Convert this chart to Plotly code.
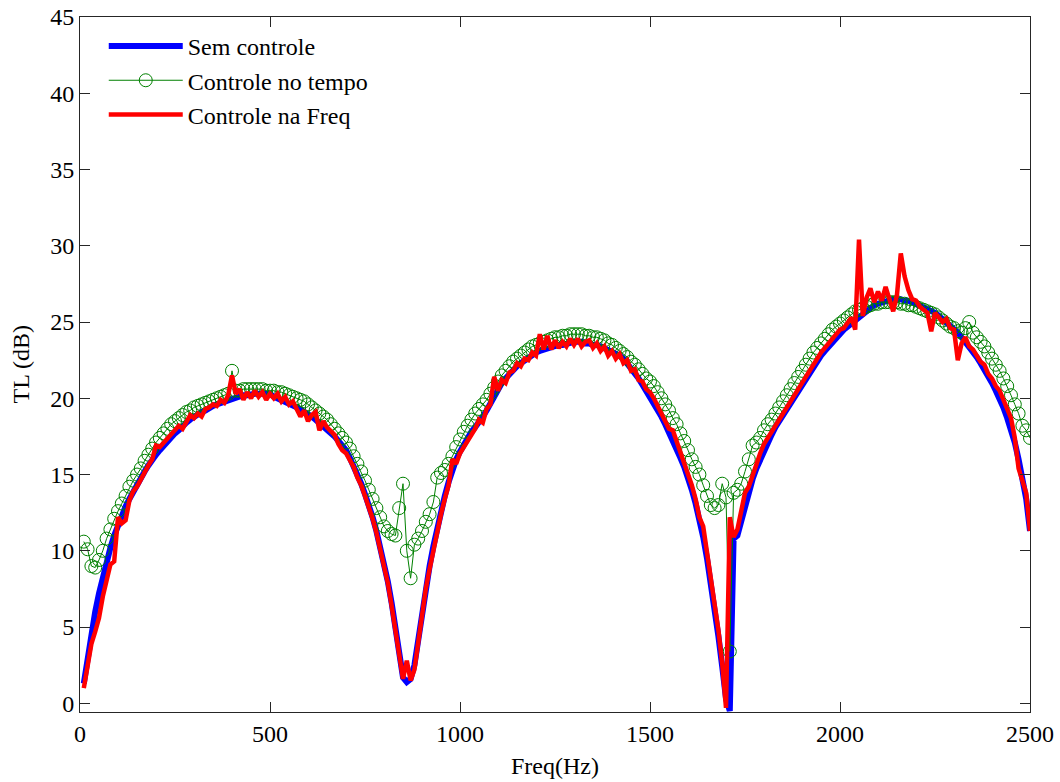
import numpy as np
import plotly.graph_objects as go

freq = list(range(10, 2501, 10))

sem_controle = [
    1.3, 3.0, 4.6, 6.0, 7.2, 8.3, 9.3, 10.2, 11.0, 11.7,
    12.3, 12.9, 13.4, 13.9, 14.3, 14.8, 15.2, 15.6, 16.0, 16.3,
    16.6, 16.9, 17.2, 17.5, 17.7, 17.9, 18.2, 18.4, 18.6, 18.8,
    18.9, 19.1, 19.2, 19.4, 19.5, 19.6, 19.7, 19.8, 19.9, 20.0,
    20.1, 20.1, 20.2, 20.2, 20.3, 20.3, 20.3, 20.3, 20.3, 20.3,
    20.1, 20.0, 19.9, 19.8, 19.7, 19.6, 19.4, 19.3, 19.1, 19.0,
    18.8, 18.6, 18.4, 18.2, 18.0, 17.8, 17.5, 17.2, 16.9, 16.6,
    16.1, 15.6, 15.0, 14.4, 13.7, 13.0, 12.2, 11.3, 10.3, 9.2,
    8.0, 6.6, 5.0, 3.3, 1.7, 1.4, 1.6, 2.5, 4.2, 5.9,
    7.6, 9.0, 10.3, 11.5, 12.6, 13.6, 14.5, 15.3, 16.0, 16.5,
    17.0, 17.4, 17.8, 18.1, 18.4, 18.8, 19.2, 19.7, 20.2, 20.6,
    21.0, 21.3, 21.6, 21.9, 22.1, 22.3, 22.5, 22.7, 22.9, 23.0,
    23.1, 23.2, 23.3, 23.3, 23.4, 23.5, 23.5, 23.6, 23.6, 23.7,
    23.7, 23.7, 23.6, 23.6, 23.5, 23.5, 23.4, 23.3, 23.2, 23.1,
    23.0, 22.8, 22.6, 22.3, 22.0, 21.7, 21.3, 20.9, 20.5, 20.1,
    19.7, 19.3, 18.8, 18.3, 17.8, 17.3, 16.7, 16.1, 15.5, 14.8,
    14.0, 13.1, 12.1, 10.9, 9.5, 8.0, 6.3, 4.4, 2.4, 0.3,
    -0.5, 10.8, 11.0, 12.0, 13.0, 14.0, 14.7, 15.4, 16.0, 16.6,
    17.1, 17.6, 18.1, 18.5, 18.9, 19.3, 19.7, 20.1, 20.5, 20.9,
    21.3, 21.7, 22.1, 22.4, 22.8, 23.1, 23.4, 23.7, 24.0, 24.3,
    24.5, 24.7, 24.9, 25.2, 25.4, 25.6, 25.8, 26.0, 26.1, 26.2,
    26.3, 26.4, 26.4, 26.5, 26.5, 26.5, 26.4, 26.4, 26.3, 26.2,
    26.1, 26.0, 25.9, 25.7, 25.6, 25.4, 25.2, 25.0, 24.8, 24.6,
    24.3, 24.0, 23.7, 23.4, 23.0, 22.7, 22.3, 21.9, 21.4, 21.0,
    20.5, 20.0, 19.4, 18.7, 18.0, 17.1, 16.0, 14.8, 13.4, 11.3,
]

controle_tempo = [
    10.6, 10.1, 9.0, 8.9, 9.4, 10.0, 10.8, 11.4, 12.1, 12.6,
    13.1, 13.6, 14.2, 14.6, 15.0, 15.4, 15.9, 16.3, 16.7, 17.1,
    17.4, 17.7, 18.0, 18.3, 18.5, 18.7, 18.9, 19.1, 19.2, 19.4,
    19.5, 19.6, 19.7, 19.8, 19.9, 20.0, 20.1, 20.2, 20.3, 21.8,
    20.5, 20.5, 20.6, 20.6, 20.6, 20.6, 20.6, 20.6, 20.5, 20.5,
    20.5, 20.4, 20.4, 20.3, 20.2, 20.1, 20.0, 19.9, 19.8, 19.6,
    19.4, 19.2, 19.0, 18.8, 18.6, 18.3, 18.0, 17.7, 17.4, 17.1,
    16.7, 16.2, 15.7, 15.2, 14.6, 14.0, 13.4, 12.8, 12.2, 11.6,
    11.3, 11.1, 11.0, 12.8, 14.4, 10.0, 8.2, 10.4, 10.8, 11.3,
    11.9, 12.4, 13.2, 14.8, 15.1, 15.3, 15.7, 16.2, 16.8, 17.3,
    17.8, 18.2, 18.6, 19.0, 19.3, 19.6, 19.9, 20.3, 20.7, 21.1,
    21.5, 21.8, 22.1, 22.4, 22.6, 22.8, 23.0, 23.2, 23.4, 23.5,
    23.6, 23.7, 23.8, 23.9, 24.0, 24.0, 24.1, 24.1, 24.2, 24.2,
    24.2, 24.2, 24.1, 24.1, 24.0, 24.0, 23.9, 23.8, 23.6, 23.5,
    23.3, 23.1, 22.9, 22.7, 22.4, 22.2, 21.9, 21.6, 21.3, 21.1,
    20.8, 20.4, 20.0, 19.6, 19.2, 18.7, 18.3, 17.7, 17.2, 16.6,
    16.0, 15.5, 15.0, 14.3, 13.6, 13.0, 12.8, 13.0, 14.4, 13.5,
    3.4, 13.8, 14.0, 14.4, 15.2, 16.0, 16.9, 17.1, 17.4, 17.9,
    18.3, 18.6, 19.0, 19.4, 19.8, 20.2, 20.6, 21.0, 21.4, 21.8,
    22.2, 22.6, 23.0, 23.3, 23.6, 23.9, 24.2, 24.5, 24.7, 24.9,
    25.1, 25.3, 25.5, 25.7, 25.8, 25.9, 26.0, 26.1, 26.2, 26.2,
    26.3, 26.3, 26.3, 26.3, 26.3, 26.2, 26.2, 26.1, 26.1, 26.0,
    25.9, 25.8, 25.7, 25.6, 25.5, 25.3, 25.1, 24.9, 24.7, 24.6,
    24.4, 24.3, 24.6, 25.0, 24.3, 24.0, 23.7, 23.4, 23.0, 22.6,
    22.2, 21.8, 21.3, 20.8, 20.2, 19.6, 19.0, 18.2, 17.9, 17.4,
]

controle_freq = [
    1.0, 2.6, 3.9, 4.7, 5.6, 7.0, 8.0, 9.1, 9.3, 12.2,
    11.8, 12.0, 13.3, 13.9, 14.2, 14.7, 15.1, 15.6, 16.0, 16.9,
    16.8, 17.1, 17.4, 17.6, 17.9, 18.2, 18.0, 18.5, 18.9, 18.7,
    19.0, 18.8, 19.3, 19.4, 19.6, 19.5, 19.9, 19.7, 20.2, 21.5,
    20.3, 20.6, 19.9, 20.4, 20.0, 20.5, 20.1, 20.4, 19.9, 20.3,
    20.0, 20.3, 19.8, 20.1, 19.6, 19.8, 19.3, 18.8, 19.2, 18.5,
    18.9, 19.1, 17.9, 18.5, 18.1, 17.8, 17.6, 17.0, 16.6, 16.4,
    15.9, 15.5, 14.8, 14.3, 13.6, 12.9, 12.1, 11.2, 10.2, 9.1,
    7.9, 6.4, 4.8, 3.0, 1.6, 2.8, 1.5, 2.2, 4.0, 5.7,
    7.5, 8.8, 10.1, 11.3, 12.4, 13.4, 14.3, 16.0, 15.7, 16.4,
    16.8, 17.3, 17.6, 18.0, 18.6, 18.4, 19.3, 19.6, 21.4, 20.5,
    21.2, 21.0, 21.7, 21.8, 22.3, 22.1, 22.6, 22.5, 23.0, 22.8,
    24.2, 23.2, 24.1, 23.2, 23.8, 23.3, 23.7, 23.4, 23.9, 23.5,
    23.9, 23.4, 23.7, 23.8, 23.3, 23.6, 23.1, 23.4, 22.8, 23.1,
    22.6, 22.9, 22.3, 22.5, 21.8, 21.9, 21.2, 21.1, 20.6, 20.4,
    20.0, 19.5, 19.0, 18.6, 18.0, 17.9, 17.2, 16.4, 15.8, 15.1,
    14.3, 13.4, 12.2, 11.6, 9.9, 8.6, 6.9, 4.8, 2.6, -0.3,
    12.2, 10.9, 11.4, 12.5, 13.8, 14.2, 15.0, 15.7, 16.4, 17.0,
    17.4, 17.8, 18.3, 18.7, 19.1, 19.5, 19.8, 20.3, 20.6, 21.1,
    21.5, 21.8, 22.3, 22.6, 23.0, 23.3, 23.6, 24.0, 24.2, 24.5,
    24.6, 24.9, 25.3, 24.5, 30.4, 25.4, 26.6, 27.2, 26.3, 27.0,
    26.4, 27.3, 26.5, 25.7, 26.8, 29.5, 28.0, 27.1, 26.5, 26.4,
    26.0, 25.8, 25.6, 24.4, 25.6, 25.3, 25.0, 25.2, 24.6, 24.5,
    22.5, 23.6, 24.0, 23.4, 23.2, 22.8, 22.4, 22.2, 21.6, 21.3,
    20.8, 20.5, 19.8, 19.3, 18.7, 17.4, 15.4, 14.6, 13.8, 11.3,
]

x_ticks = [0, 500, 1000, 1500, 2000, 2500]
y_ticks = [0, 5, 10, 15, 20, 25, 30, 35, 40, 45]

FONT = "Liberation Serif, Times New Roman, serif"

fig = go.Figure()
fig.add_trace(go.Scatter(
    x=freq, y=sem_controle, mode="lines", name="Sem controle",
    line=dict(color="#0000FF", width=6),
))
fig.add_trace(go.Scatter(
    x=freq, y=controle_tempo, mode="lines+markers", name="Controle no tempo",
    line=dict(color="#008000", width=1),
    marker=dict(symbol="circle-open", size=13, color="#008000", line=dict(width=1)),
))
fig.add_trace(go.Scatter(
    x=freq, y=controle_freq, mode="lines", name="Controle na Freq",
    line=dict(color="#FF0000", width=4.5),
))

axis_common = dict(
    showgrid=False, zeroline=False, showline=True, linecolor="#262626",
    linewidth=1, mirror="allticks", ticks="inside", ticklen=10,
    tickcolor="#262626", tickwidth=1, automargin=False,
    tickfont=dict(family=FONT, size=24, color="black"),
)

fig.update_layout(
    width=1060, height=782,
    margin=dict(l=80, r=30, t=17, b=70, autoexpand=False),
    paper_bgcolor="white", plot_bgcolor="white",
    font=dict(family=FONT, size=24, color="black"),
    xaxis=dict(range=[0, 2500], tickvals=x_ticks,
               title=dict(text="Freq(Hz)", font=dict(family=FONT, size=24), standoff=11),
               **axis_common),
    yaxis=dict(range=[-0.57, 45], tickvals=y_ticks, **axis_common),
    legend=dict(x=0.025, y=0.99, xanchor="left", yanchor="top",
                itemwidth=74, tracegroupgap=0,
                bgcolor="rgba(255,255,255,0)", borderwidth=0,
                font=dict(family=FONT, size=24, color="black")),
    annotations=[dict(
        text="TL (dB)", textangle=-90, xref="paper", yref="paper",
        x=-60 / 950, y=0.5, xanchor="center", yanchor="middle",
        showarrow=False, font=dict(family=FONT, size=24, color="black"),
    )],
    showlegend=True,
)

fig.write_html("out.html")
